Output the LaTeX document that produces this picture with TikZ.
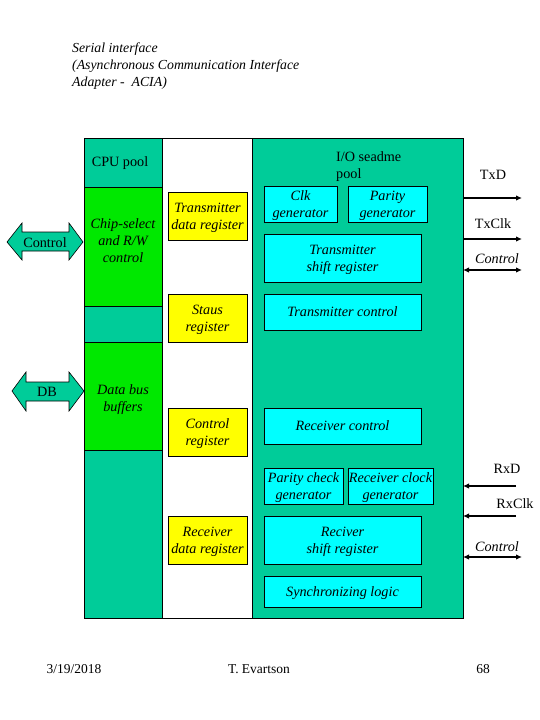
\documentclass[tikz,border=0pt]{standalone}
\usepackage{fontspec}
\setmainfont{Liberation Serif}
\usetikzlibrary{arrows.meta}
\definecolor{teal0}{RGB}{0,204,153}
\definecolor{lime0}{RGB}{0,232,0}
\definecolor{yel0}{RGB}{255,255,0}
\definecolor{cyan0}{RGB}{0,255,255}
\newcommand{\bx}[7]{\node[#2, minimum width={#5-#3}, minimum height={#6-#4}] (#1) at ({(#3+#5)/2},{(#4+#6)/2}) {#7};}
\begin{document}
\begin{tikzpicture}[x=1pt,y=-1pt,
  txt/.style={font=\fontsize{14.2}{17}\selectfont, align=center, inner sep=0pt},
  itx/.style={font=\fontsize{14.2}{17}\selectfont\itshape, align=center, inner sep=0pt},
  ybox/.style={itx, draw=black, fill=yel0, line width=0.6pt, text depth=0pt},
  cbox/.style={itx, draw=black, fill=cyan0, line width=0.6pt, text depth=0pt},
  frame/.style={draw=black, line width=0.7pt},
  sig/.style={line width=1.4pt, -{Latex[length=6pt,width=5.5pt]}},
  dsig/.style={line width=1.4pt, {Latex[length=6pt,width=5.5pt]}-{Latex[length=6pt,width=5.5pt]}},
  blk/.style={draw=black, fill=teal0, line width=0.6pt}]
\useasboundingbox (0,0) rectangle (540,720);
\fill[white] (0,0) rectangle (540,720);
% title
\node[itx, align=left, anchor=north west, font=\fontsize{13.8}{17}\selectfont\itshape] (title) at (72,43) {Serial interface\\(Asynchronous Communication Interface\\Adapter -\ \ ACIA)};
% columns
\fill[teal0] (84,138) rectangle (162,618);
\fill[lime0] (84,187) rectangle (162,306);
\fill[lime0] (84,342) rectangle (162,450);
\fill[teal0] (252,138) rectangle (463,618);
\draw[frame] (84,138) rectangle (463,618);
\draw[frame] (162,138) -- (162,618);
\draw[frame] (252,138) -- (252,618);
\draw[frame] (84,187) -- (162,187);
\draw[frame] (84,306) -- (162,306);
\draw[frame] (84,342) -- (162,342);
\draw[frame] (84,450) -- (162,450);
\node[txt] (cpu) at (120,163) {CPU pool};
\node[itx] (chip) at (123,241) {Chip-select\\and R/W\\control};
\node[itx] (dbb) at (123,400) {Data bus\\buffers};
\node[txt, align=left, anchor=north west] (io) at (336,151) {I/O seadme\\pool};
% yellow registers
\bx{tdr}{ybox}{168}{192}{247}{240}{Transmitter\\data register}
\bx{sr}{ybox}{168}{294}{247}{342}{Staus\\register}
\bx{cr}{ybox}{168}{408}{247}{456}{Control\\register}
\bx{rdr}{ybox}{168}{516}{247}{564}{Receiver\\data register}
% cyan blocks
\bx{clk}{cbox}{264}{186}{337}{222}{Clk\\generator}
\bx{par}{cbox}{348}{186}{427}{222}{Parity\\generator}
\bx{tsr}{cbox}{264}{234}{421}{282}{Transmitter\\shift register}
\bx{tc}{cbox}{264}{294}{421}{330}{Transmitter control}
\bx{rc}{cbox}{264}{408}{421}{444}{Receiver control}
\bx{pcg}{cbox}{264}{468}{343}{504}{Parity check\\generator}
\bx{rcg}{cbox}{348}{468}{433}{504}{Receiver clock\\generator}
\bx{rsr}{cbox}{264}{516}{421}{564}{Reciver\\shift register}
\bx{sl}{cbox}{264}{576}{421}{607}{Synchronizing logic}
% left block arrows
\draw[blk] (7,242) -- (22,223) -- (22,232) -- (69,232) -- (69,223) -- (83,242) -- (69,260) -- (69,251) -- (22,251) -- (22,260) -- cycle;
\node[txt] (ctl) at (45,243) {Control};
\draw[blk] (12,391) -- (26,372) -- (26,382) -- (69,382) -- (69,372) -- (84,391) -- (69,411) -- (69,401) -- (26,401) -- (26,411) -- cycle;
\node[txt] (db) at (47,392) {DB};
% right signals
\coordinate (txdA) at (463,198); \coordinate (txdB) at (522,198);
\coordinate (txcA) at (463,239); \coordinate (txcB) at (522,239);
\coordinate (tctA) at (463,270); \coordinate (tctB) at (522,270);
\coordinate (rxdA) at (516,486); \coordinate (rxdB) at (463,486);
\coordinate (rxcA) at (516,516); \coordinate (rxcB) at (463,516);
\coordinate (rctA) at (463,557); \coordinate (rctB) at (522,557);
\draw[sig] (txdA) -- (txdB);
\draw[sig] (txcA) -- (txcB);
\draw[dsig] (tctA) -- (tctB);
\draw[sig] (rxdA) -- (rxdB);
\draw[sig] (rxcA) -- (rxcB);
\draw[dsig] (rctA) -- (rctB);
\node[txt] (ltxd) at (493,175) {TxD};
\node[txt] (ltxc) at (493,224) {TxClk};
\node[itx] (ltct) at (497,259) {Control};
\node[txt] (lrxd) at (507,469) {RxD};
\node[txt] (lrxc) at (515,504) {RxClk};
\node[itx] (lrct) at (497,547) {Control};
% footer
\node[txt, font=\fontsize{13.5}{15}\selectfont] (date) at (74,669) {3/19/2018};
\node[txt, font=\fontsize{13.5}{15}\selectfont] (auth) at (259,669) {T. Evartson};
\node[txt, font=\fontsize{13.5}{15}\selectfont] (page) at (483,669) {68};
\end{tikzpicture}
\end{document}
